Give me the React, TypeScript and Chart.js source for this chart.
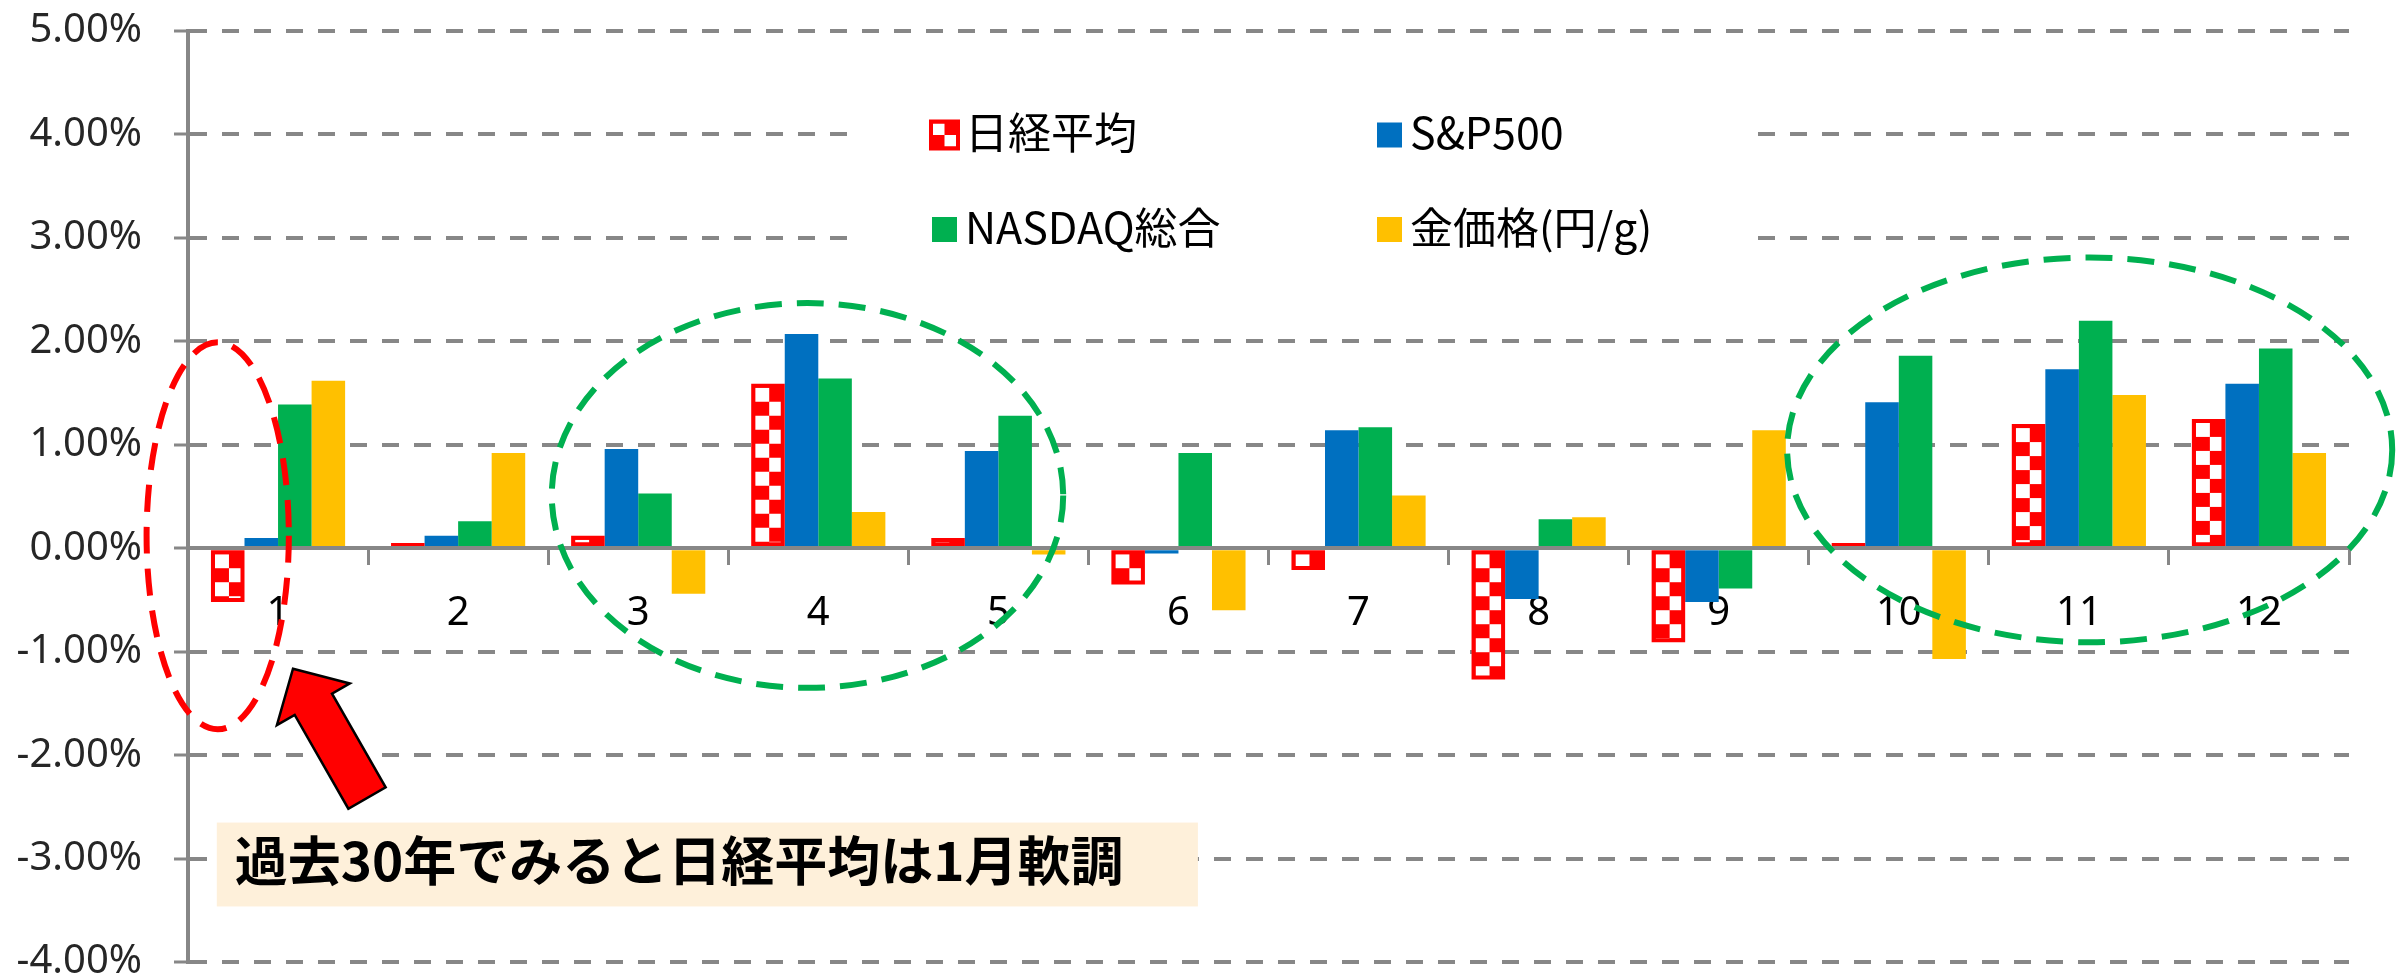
import { useEffect, useRef } from 'react';
import { Chart, registerables } from 'chart.js';

Chart.register(...registerables);

// ---- data ----
const months = ['1', '2', '3', '4', '5', '6', '7', '8', '9', '10', '11', '12'];
const seriesLabels = ['日経平均', 'S&P500', 'NASDAQ総合', '金価格(円/g)'];
const nikkei = [-0.52, 0.05, 0.12, 1.59, 0.10, -0.35, -0.21, -1.27, -0.91, 0.05, 1.20, 1.25];
const sp500 = [0.10, 0.12, 0.96, 2.07, 0.94, -0.05, 1.14, -0.49, -0.52, 1.41, 1.73, 1.59];
const nasdaq = [1.39, 0.26, 0.53, 1.64, 1.28, 0.92, 1.17, 0.28, -0.39, 1.86, 2.20, 1.93];
const gold = [1.62, 0.92, -0.44, 0.35, -0.06, -0.60, 0.51, 0.30, 1.14, -1.07, 1.48, 0.92];
const yMin = -4;
const yMax = 5;
const yStep = 1;
const annotationText = '過去30年でみると日経平均は1月軟調';

// ---- styles ----
const colors = ['#FF0000', '#0070C0', '#00B050', '#FFC000'];
const gridGray = '#878787';

// annotation geometry in scale units (category index, percent)
const ellipses = [
  { color: '#FF0000', cu: -0.335, cv: 0.12, ru: 0.395, rv: 1.87 },
  { color: '#00B050', cu: 2.94, cv: 0.51, ru: 1.42, rv: 1.86 },
  { color: '#00B050', cu: 10.06, cv: 0.95, ru: 1.68, rv: 1.86 },
];
const arrowDef = { tipU: 0.083, tipV: -1.165, tailU: 0.494, tailV: -2.415 };
const noteBox = { u0: -0.34, u1: 5.108, v0: -2.652, v1: -3.463 };

function drawChecker(ctx: CanvasRenderingContext2D, l: number, t: number, r: number, b: number, cell: number) {
  if (r <= l || b <= t) return;
  ctx.save();
  ctx.beginPath();
  ctx.rect(l, t, r - l, b - t);
  ctx.clip();
  ctx.fillStyle = '#FFFFFF';
  for (let row = 0; t + row * cell < b; row++) {
    for (let col = 0; l + col * cell < r; col++) {
      if ((row + col) % 2 === 0) ctx.fillRect(l + col * cell, t + row * cell, cell, cell);
    }
  }
  ctx.restore();
}

const overlayPlugin = {
  id: 'overlay',
  afterDatasetsDraw(chart: any) {
    const ctx: CanvasRenderingContext2D = chart.ctx;
    const area = chart.chartArea;
    const meta = chart.getDatasetMeta(0);
    ctx.save();
    ctx.beginPath();
    ctx.rect(area.left, area.top, area.right - area.left, area.bottom - area.top);
    ctx.clip();
    meta.data.forEach((el: any) => {
      const { x, y, base, width } = el.getProps(['x', 'y', 'base', 'width'], true);
      const left = x - width / 2;
      const right = x + width / 2;
      const top = Math.min(y, base);
      const bottom = Math.max(y, base);
      const bw = 4;
      drawChecker(ctx, left + bw, top + bw, right - bw, bottom - bw, 14);
    });
    ctx.restore();
  },
  afterDraw(chart: any) {
    const ctx: CanvasRenderingContext2D = chart.ctx;
    const xs = chart.scales.x;
    const ys = chart.scales.y;
    const px = (u: number) => xs.getPixelForValue(u);
    const py = (v: number) => ys.getPixelForValue(v);
    const catW = px(1) - px(0);
    const pctH = py(0) - py(1);

    // legend
    ctx.save();
    ctx.fillStyle = '#FFFFFF';
    ctx.fillRect(849, 68, 895, 222);
    const cols = [932, 1377];
    const rows = [135, 229.5];
    const sw = 25;
    ctx.font = '43px "Noto Sans CJK JP"';
    ctx.textBaseline = 'middle';
    ctx.textAlign = 'left';
    chart.data.datasets.forEach((ds: any, i: number) => {
      const cx = cols[i % 2];
      const cy = rows[Math.floor(i / 2)];
      if (i === 0) {
        const s = 31;
        const l = cx + sw / 2 - s / 2;
        const t = cy - s / 2;
        ctx.fillStyle = ds.backgroundColor;
        ctx.fillRect(l, t, s, s);
        drawChecker(ctx, l + 4, t + 4, l + s - 4, t + s - 4, 11.5);
      } else {
        ctx.fillStyle = ds.backgroundColor;
        ctx.fillRect(cx, cy - sw / 2, sw, sw);
      }
      ctx.fillStyle = '#000000';
      ctx.fillText(ds.label, cx + 33, cy - 2);
    });
    ctx.restore();

    // note box
    ctx.save();
    const bx0 = px(noteBox.u0);
    const bx1 = px(noteBox.u1);
    const by0 = py(noteBox.v0);
    const by1 = py(noteBox.v1);
    ctx.fillStyle = '#FEF0DA';
    ctx.fillRect(bx0, by0, bx1 - bx0, by1 - by0);
    ctx.fillStyle = '#000000';
    ctx.font = 'bold 53px "Noto Sans CJK JP"';
    ctx.textBaseline = 'middle';
    ctx.textAlign = 'left';
    ctx.fillText(annotationText, bx0 + 18, (by0 + by1) / 2 - 4);
    ctx.restore();

    // ellipses
    ctx.save();
    ctx.lineWidth = 6;
    ctx.setLineDash([27, 15]);
    ellipses.forEach((e) => {
      ctx.strokeStyle = e.color;
      ctx.beginPath();
      ctx.ellipse(px(e.cu), py(e.cv), e.ru * catW, e.rv * pctH, 0, 0, Math.PI * 2);
      ctx.stroke();
    });
    ctx.restore();

    // arrow
    ctx.save();
    const tip = { x: px(arrowDef.tipU), y: py(arrowDef.tipV) };
    const tail = { x: px(arrowDef.tailU), y: py(arrowDef.tailV) };
    const dx = tip.x - tail.x;
    const dy = tip.y - tail.y;
    const len = Math.hypot(dx, dy);
    const ux = dx / len;
    const uy = dy / len;
    const nx = -uy;
    const ny = ux;
    const headLen = 41;
    const headHalf = 42;
    const shaftHalf = 21.5;
    const hb = { x: tip.x - ux * headLen, y: tip.y - uy * headLen };
    ctx.beginPath();
    ctx.moveTo(tip.x, tip.y);
    ctx.lineTo(hb.x + nx * headHalf, hb.y + ny * headHalf);
    ctx.lineTo(hb.x + nx * shaftHalf, hb.y + ny * shaftHalf);
    ctx.lineTo(tail.x + nx * shaftHalf, tail.y + ny * shaftHalf);
    ctx.lineTo(tail.x - nx * shaftHalf, tail.y - ny * shaftHalf);
    ctx.lineTo(hb.x - nx * shaftHalf, hb.y - ny * shaftHalf);
    ctx.lineTo(hb.x - nx * headHalf, hb.y - ny * headHalf);
    ctx.closePath();
    ctx.fillStyle = '#FF0000';
    ctx.fill();
    ctx.lineWidth = 2.5;
    ctx.lineJoin = 'miter';
    ctx.strokeStyle = '#000000';
    ctx.stroke();
    ctx.restore();
  },
};

export default function App() {
  const ref = useRef<HTMLCanvasElement>(null);
  useEffect(() => {
    const canvas = ref.current;
    if (!canvas) return;
    const seriesData = [nikkei, sp500, nasdaq, gold];
    const chart = new Chart(canvas, {
      type: 'bar',
      data: {
        labels: months,
        datasets: seriesLabels.map((label, i) => ({
          label,
          data: seriesData[i],
          backgroundColor: colors[i],
          borderWidth: 0,
        })),
      },
      options: {
        responsive: false,
        animation: false,
        events: [],
        devicePixelRatio: 1,
        layout: { padding: { left: 0, right: 50, top: 31, bottom: 16 } },
        datasets: { bar: { categoryPercentage: 0.745, barPercentage: 1.0 } },
        plugins: { legend: { display: false }, tooltip: { enabled: false } },
        scales: {
          x: {
            position: { y: 0 },
            grid: {
              display: true,
              drawOnChartArea: false,
              drawTicks: true,
              tickLength: 15,
              tickWidth: 3,
              tickColor: gridGray,
              offset: true,
            },
            border: { display: true, color: gridGray, width: 4, z: 1 },
            ticks: {
              autoSkip: false,
              maxRotation: 0,
              padding: 26,
              color: '#000000',
              font: { family: '"Noto Sans", sans-serif', size: 40 },
            },
          },
          y: {
            min: yMin,
            max: yMax,
            ticks: {
              stepSize: yStep,
              padding: 32,
              color: '#262626',
              font: { family: '"Noto Sans", sans-serif', size: 40 },
              callback: (v: any) => Number(v).toFixed(2) + '%',
            },
            grid: {
              color: gridGray,
              lineWidth: 4,
              drawTicks: true,
              tickLength: 14,
              tickWidth: 3,
              tickColor: gridGray,
            },
            border: { display: true, color: gridGray, width: 4, dash: [17, 15] },
            afterFit: (s: any) => {
              s.width = 188;
              s.paddingTop = 0;
              s.paddingBottom = 0;
            },
          },
        },
      } as any,
      plugins: [overlayPlugin],
    });
    return () => chart.destroy();
  }, []);
  return (
    <div style={{ position: 'fixed', left: 0, top: 0, width: 2399, height: 978, background: '#FFFFFF', overflow: 'hidden' }}>
      <canvas ref={ref} width={2399} height={978} style={{ display: 'block', width: 2399, height: 978 }} />
    </div>
  );
}
